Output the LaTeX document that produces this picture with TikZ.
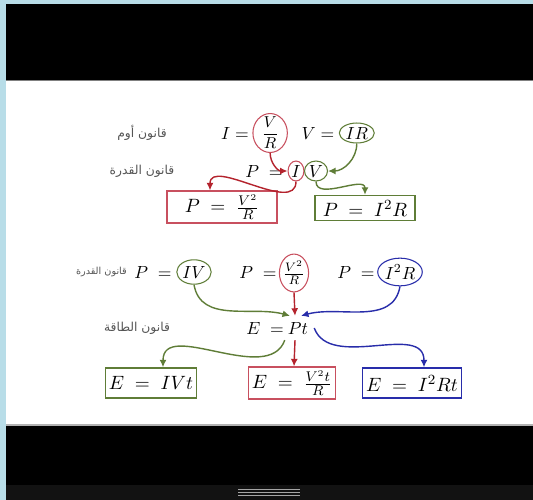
\documentclass[tikz,border=0pt]{standalone}
\usepackage{amsmath}
\usepackage{fontspec}
\usetikzlibrary{arrows.meta,positioning,calc,shapes.geometric}
\newfontfamily\arabicfont[Script=Arabic]{DejaVu Sans}
\TeXXeTstate=1
\definecolor{ohmred}{RGB}{180,35,45}
\definecolor{boxred}{RGB}{200,80,95}
\definecolor{ohmgreen}{RGB}{95,125,55}
\definecolor{ohmblue}{RGB}{40,45,170}
\definecolor{frameblue}{RGB}{184,221,232}
\definecolor{lawgray}{RGB}{85,85,85}

\begin{document}
\begin{tikzpicture}[x=0.2mm,y=-0.2mm,
    ring/.style={ellipse,draw,inner sep=0.6pt,line width=0.6pt},
    eqbox/.style={draw,line width=0.8pt,inner sep=2pt,font=\fontsize{11}{13}\selectfont},
    law/.style={font=\arabicfont\scriptsize,text=lawgray},
    flow/.style={-{Latex[length=1.5mm,width=1.4mm]},line width=0.8pt},
    >=Latex]
    \useasboundingbox (0,0) rectangle (533,500);
    % screen around the slide
    \fill[frameblue] (0,0) rectangle (533,500);
    \fill[black] (6,4) rectangle (533,80);
    \fill[white] (6,80) rectangle (533,425);
    \draw[gray,line width=0.3mm] (6,80.5) -- (533,80.5);
    \draw[gray!60,line width=0.3mm] (6,425) -- (533,425);
    \fill[black] (6,426) rectangle (533,485);
    \fill[black!93] (6,485) rectangle (533,500);
    \foreach \y in {489,492,495} {
      \draw[gray!70,line width=0.2mm] (238,\y) -- (300,\y);
    }

    % Ohm and power
    \node[law] (ohm) at (142,133) {\beginR قانون أوم\endR};
    \node (Ieq) at (235,133) {$I=$};
    \node[ring,draw=boxred,inner ysep=-1.2pt,inner xsep=2pt,right=-1.5pt of Ieq] (VR) {\small$\dfrac{V}{R}$};
    \node (Veq) at (318,133) {$V=$};
    \node[ring,draw=ohmgreen,right=-1pt of Veq] (IR) {$IR$};
    \node[law] (powA) at (142,171) {\beginR قانون القدرة\endR};
    \node (Peq) at (264,171) {$P\;=$};
    \node[ring,draw=boxred] (Ic) at (296,171) {$I$};
    \node[ring,draw=ohmgreen] (Vc) at (316,171) {$V$};
    \node[eqbox,draw=boxred,minimum width=22mm,minimum height=6mm] (boxA) at (222,207) {$P\;=\;\frac{V^2}{R}$};
    \node[eqbox,draw=ohmgreen,minimum width=20mm,minimum height=5mm] (boxB) at (365,208) {$P\;=\;I^2R$};
    \draw[flow,ohmred] (VR.south) to[out=-90,in=180] (Ic.west);
    \draw[flow,ohmred] (Ic.south) to[out=-90,in=90] ($(boxA.north)+(-12,0)$);
    \draw[flow,ohmgreen] (IR.south) to[out=-90,in=0] (Vc.east);
    \draw[flow,ohmgreen] (Vc.south) to[out=-90,in=90] (boxB.north);

    % power and energy
    \node[law,font=\arabicfont\fontsize{5.5}{6}\selectfont,anchor=east] (powB) at (133,272) {\beginR قانون القدرة\endR};
    \node (P1) at (153,272) {$P\;=$};
    \node[ring,draw=ohmgreen,inner xsep=0.3pt,inner ysep=1.5pt] (IV) at (194,272) {$IV$};
    \node (P2) at (258,272) {$P\;=$};
    \node[ring,draw=boxred,inner ysep=0.8pt,inner xsep=-0.5pt] (V2R) at (294,273) {$\frac{V^2}{R}$};
    \node (P3) at (356,272) {$P\;=$};
    \node[ring,draw=ohmblue,inner xsep=0.3pt,inner ysep=1.5pt] (I2R) at (400,272) {$I^2R$};
    \node[law] (energy) at (137,328) {\beginR قانون الطاقة\endR};
    \node (Eeq) at (265,328) {$E\;=$};
    \node (Pt) at (298,328) {$Pt$};
    \node[eqbox,draw=ohmgreen,minimum width=17mm,minimum height=6mm] (boxE1) at (151,383) {$E\;=\;IVt$};
    \node[eqbox,draw=boxred,minimum width=17mm,minimum height=6mm] (boxE2) at (292,383) {$E\;=\;\frac{V^2t}{R}$};
    \node[eqbox,draw=ohmblue,minimum width=17mm,minimum height=6mm] (boxE3) at (412,383) {$E\;=\;I^2Rt$};
    \draw[flow,ohmgreen] (IV.south) to[out=-80,in=165] ($(Pt.north)+(-8,0)$);
    \draw[flow,ohmred] (V2R.south) -- ($(Pt.north)+(-3,0)$);
    \draw[flow,ohmblue] (I2R.south) to[out=-100,in=15] ($(Pt.north)+(3,0)$);
    \draw[flow,ohmgreen] ($(Pt.south west)+(3,0)$) to[out=-110,in=90] ($(boxE1.north)+(12,0)$);
    \draw[flow,ohmred] ($(Pt.south)+(-3,0)$) -- ($(boxE2.north)+(2,0)$);
    \draw[flow,ohmblue] (Pt.east) to[out=-70,in=90] ($(boxE3.north)+(12,0)$);
  \end{tikzpicture}
\end{document}
